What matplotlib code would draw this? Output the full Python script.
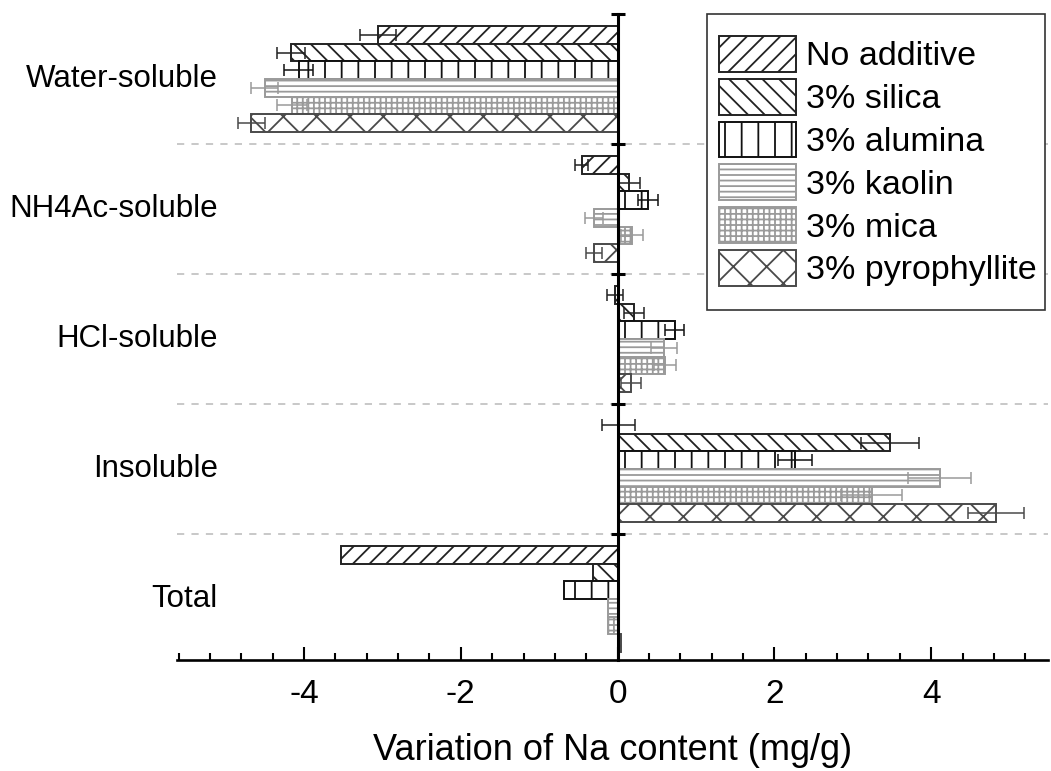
import numpy as np
import matplotlib.pyplot as plt
from matplotlib.patches import Rectangle
from matplotlib.ticker import MultipleLocator

plt.rcParams['font.family'] = ['Liberation Sans', 'DejaVu Sans']
plt.rcParams['axes.unicode_minus'] = False
plt.rcParams['hatch.linewidth'] = 1.3

categories = ['Water-soluble', 'NH4Ac-soluble', 'HCl-soluble', 'Insoluble', 'Total']
series = ['No additive', '3% silica', '3% alumina', '3% kaolin', '3% mica', '3% pyrophyllite']

# Na variation (mg/g) per fraction, one list per additive
no_additive = [-3.06, -0.46, -0.03, 0.01, -3.53]
silica = [-4.17, 0.15, 0.21, 3.48, -0.32]
alumina = [-4.07, 0.39, 0.73, 2.26, -0.68]
kaolin = [-4.50, -0.30, 0.59, 4.11, -0.12]
mica = [-4.15, 0.18, 0.61, 3.24, -0.12]
pyrophyllite = [-4.67, -0.30, 0.17, 4.83, 0.04]

# standard deviations (none reported for the total)
no_additive_err = [0.23, 0.08, 0.10, 0.21]
silica_err = [0.18, 0.13, 0.13, 0.37]
alumina_err = [0.18, 0.13, 0.12, 0.22]
kaolin_err = [0.17, 0.11, 0.17, 0.40]
mica_err = [0.19, 0.14, 0.14, 0.39]
pyrophyllite_err = [0.17, 0.10, 0.13, 0.36]

values = [no_additive, silica, alumina, kaolin, mica, pyrophyllite]
errors = [no_additive_err, silica_err, alumina_err, kaolin_err, mica_err, pyrophyllite_err]
hatches = ['//', '\\\\', '|', '---', '+++', 'x']
colors = ['#222222', '#222222', '#111111', '#9a9a9a', '#9a9a9a', '#4a4a4a']

W, H = 1051, 771
fig = plt.figure(figsize=(W / 100, H / 100), dpi=100)
ax = fig.add_axes([177 / W, 1 - 660 / H, (1048 - 177) / W, (660 - 14) / H])

h = 0.135
y0 = np.arange(len(categories))
for j, (vals, errs, hat, col) in enumerate(zip(values, errors, hatches, colors)):
    y = y0 + (j - 2.5) * h
    ax.barh(y, vals, height=h, facecolor='white', edgecolor=col, hatch=hat,
            linewidth=1.4, label=series[j], zorder=2)
    n = len(errs)
    ax.errorbar(vals[:n], y[:n], xerr=errs, fmt='none', ecolor=col,
                elinewidth=1.1, capsize=4.5, capthick=1.1, zorder=3)

for b in [0.5, 1.5, 2.5, 3.5]:
    ax.axhline(b, color='#c4c4c4', linestyle=(0, (4, 4)), linewidth=1.3, zorder=1)

for i, name in enumerate(categories):
    ax.text(-5.10, i, name, ha='right', va='center', fontsize=22.5)

ax.set_xlim(-5.62, 5.49)
ax.set_ylim(4.469, -0.5)

ax.spines['left'].set_position(('data', 0))
ax.spines['left'].set_linewidth(2.2)
ax.spines['left'].set_zorder(4)
ax.spines['bottom'].set_linewidth(1.9)
ax.spines['top'].set_visible(False)
ax.spines['right'].set_visible(False)

ax.set_yticks([-0.5, 0.5, 1.5, 2.5, 3.5])
ax.set_yticklabels([])
ax.tick_params(axis='y', direction='inout', length=10, width=2.2)

ax.xaxis.set_major_locator(MultipleLocator(2))
ax.xaxis.set_minor_locator(MultipleLocator(0.4))
ax.tick_params(axis='x', which='major', direction='in', length=9.5, width=1.5,
               labelsize=24, pad=14)
ax.tick_params(axis='x', which='minor', direction='in', length=5, width=1.5)
ax.set_xlabel('Variation of Na content (mg/g)', fontsize=26, labelpad=16)

# legend frame drawn separately so the padding can be set per side
frame = Rectangle((707 / W, 1 - 310 / H), (1045 - 707) / W, (310 - 14) / H,
                  transform=fig.transFigure, facecolor='white', edgecolor='#333333',
                  linewidth=1.2, zorder=5)
fig.add_artist(frame)
leg = ax.legend(loc='upper left', bbox_to_anchor=(719 / W, 1 - 36 / H),
                bbox_transform=fig.transFigure, fontsize=24.5,
                handlelength=2.25, handleheight=1.24, labelspacing=0.19,
                handletextpad=0.3, borderpad=0, borderaxespad=0, frameon=False)
leg.set_zorder(6)
leg.remove()
fig.add_artist(leg)

fig.savefig('out.png', dpi=100, facecolor='white')
